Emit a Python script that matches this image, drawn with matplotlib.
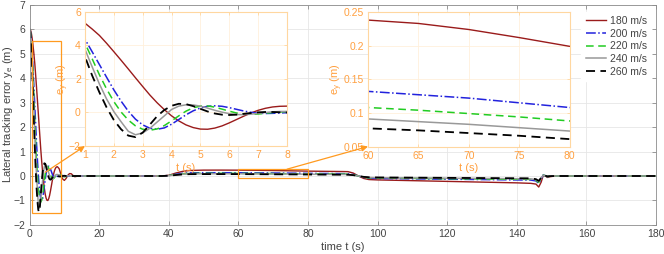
import numpy as np
import matplotlib
matplotlib.use('Agg')
import matplotlib.pyplot as plt
from matplotlib.patches import Rectangle
from matplotlib.ticker import FormatStrFormatter

plt.rcParams['font.family'] = ['Liberation Sans', 'DejaVu Sans']
plt.rcParams['mathtext.fontset'] = 'custom'
plt.rcParams['mathtext.rm'] = 'Liberation Sans'
plt.rcParams['mathtext.it'] = 'Liberation Sans'

# ---- data ----
labels = ['180 m/s', '200 m/s', '220 m/s', '240 m/s', '260 m/s']

# start-up transient, sampled every 0.25 s from 0 to 8 s
t_start = np.arange(0, 8.01, 0.25)
e180_start = [6.0, 5.97, 5.85, 5.62, 5.33, 4.98, 4.6, 4.13, 3.63, 3.12, 2.6, 2.07, 1.55, 1.04,
              0.58, 0.17, -0.2, -0.5, -0.74, -0.9, -0.99, -1.0, -0.93, -0.8, -0.62, -0.42,
              -0.22, -0.03, 0.13, 0.25, 0.33, 0.37, 0.38]
e200_start = [6.0, 5.9, 5.55, 5.0, 4.37, 3.62, 2.86, 2.1, 1.35, 0.68, 0.08, -0.4, -0.74, -0.94,
              -1.0, -0.92, -0.7, -0.42, -0.14, 0.1, 0.27, 0.37, 0.4, 0.37, 0.29, 0.19,
              0.09, 0.01, -0.04, -0.06, -0.05, -0.03, -0.01]
e220_start = [6.0, 5.88, 5.45, 4.85, 4.13, 3.2, 2.25, 1.4, 0.65, 0.03, -0.45, -0.8, -1.0, -1.06,
              -0.98, -0.78, -0.5, -0.2, 0.08, 0.28, 0.38, 0.39, 0.32, 0.2, 0.08, -0.03,
              -0.09, -0.11, -0.09, -0.05, 0.0, 0.03, 0.05]
e240_start = [6.0, 5.85, 5.35, 4.65, 3.77, 2.72, 1.7, 0.8, 0.05, -0.55, -1.12, -1.33, -1.22, -0.94,
              -0.57, -0.2, 0.18, 0.38, 0.46, 0.45, 0.38, 0.26, 0.13, 0.02, -0.07, -0.12,
              -0.13, -0.1, -0.05, 0.0, 0.04, 0.06, 0.06]
e260_start = [6.0, 5.8, 5.2, 4.35, 3.33, 2.2, 1.2, 0.3, -0.45, -1.0, -1.38, -1.47, -1.2, -0.72,
              -0.22, 0.15, 0.4, 0.52, 0.5, 0.38, 0.22, 0.06, -0.06, -0.13, -0.15, -0.13,
              -0.08, -0.03, 0.01, 0.03, 0.03, 0.01, 0.0]

# rest of the run
t_rest = [8.5, 9, 9.5, 10, 10.5, 11, 11.5, 12, 12.5, 13, 14, 38, 40, 42, 44, 46, 50, 55,
          60, 65, 70, 75, 80, 85, 90, 91.5, 93, 94.5, 96, 97.5, 100, 110, 120, 130, 140,
          144, 145.5, 146.3, 147, 147.6, 148.2, 148.8, 149.5, 151, 180]
e180_rest = [0.3, 0.08, -0.12, -0.18, -0.1, 0.03, 0.1, 0.09, 0.02, -0.03, 0.0, 0.0, 0.03, 0.12,
             0.19, 0.225, 0.24, 0.241, 0.238, 0.233, 0.224, 0.212, 0.199, 0.19, 0.182, 0.178,
             0.12, 0.0, -0.1, -0.145, -0.16, -0.19, -0.22, -0.25, -0.28, -0.3, -0.33, -0.45,
             -0.25, 0.03, 0.0, -0.06, -0.03, 0.0, 0.0]
e200_rest = [0.01, 0.02, 0.02, 0.0, -0.01, 0.0, 0.0, 0.0, 0.0, 0.0, 0.0, 0.0, 0.02, 0.07,
             0.11, 0.128, 0.134, 0.134, 0.132, 0.127, 0.122, 0.115, 0.108, 0.101, 0.095, 0.092,
             0.06, 0.0, -0.06, -0.09, -0.1, -0.115, -0.13, -0.145, -0.16, -0.165, -0.2, -0.3,
             -0.12, 0.04, 0.01, -0.03, -0.01, 0.0, 0.0]
e220_rest = [0.06, 0.04, 0.0, -0.03, -0.02, 0.0, 0.0, 0.0, 0.0, 0.0, 0.0, 0.0, 0.02, 0.06,
             0.09, 0.105, 0.11, 0.11, 0.108, 0.104, 0.099, 0.094, 0.088, 0.083, 0.078, 0.076,
             0.05, 0.0, -0.05, -0.075, -0.085, -0.097, -0.11, -0.122, -0.135, -0.14, -0.18, -0.26,
             -0.1, 0.035, 0.01, -0.025, -0.01, 0.0, 0.0]
e240_rest = [0.04, 0.0, -0.03, -0.02, 0.0, 0.01, 0.0, 0.0, 0.0, 0.0, 0.0, 0.0, 0.015, 0.05,
             0.075, 0.088, 0.092, 0.092, 0.091, 0.087, 0.083, 0.078, 0.073, 0.068, 0.064, 0.062,
             0.04, 0.0, -0.04, -0.062, -0.07, -0.08, -0.09, -0.1, -0.11, -0.115, -0.15, -0.23,
             -0.08, 0.03, 0.01, -0.02, -0.01, 0.0, 0.0]
e260_rest = [-0.02, -0.02, 0.0, 0.01, 0.0, 0.0, 0.0, 0.0, 0.0, 0.0, 0.0, 0.0, 0.012, 0.04,
             0.065, 0.075, 0.078, 0.078, 0.077, 0.074, 0.07, 0.066, 0.061, 0.057, 0.053, 0.052,
             0.035, 0.0, -0.035, -0.052, -0.06, -0.068, -0.076, -0.084, -0.092, -0.095, -0.13, -0.2,
             -0.07, 0.025, 0.01, -0.015, -0.005, 0.0, 0.0]

t = np.concatenate([t_start, t_rest])
series = [np.concatenate([e180_start, e180_rest]),
          np.concatenate([e200_start, e200_rest]),
          np.concatenate([e220_start, e220_rest]),
          np.concatenate([e240_start, e240_rest]),
          np.concatenate([e260_start, e260_rest])]

# ---- styles ----
styles = [dict(color='#9a1b1b', ls='-', lw=1.0),
          dict(color='#2222dd', ls='-.', lw=1.1),
          dict(color='#22cc22', ls=(0, (5, 3)), lw=1.1),
          dict(color='#999999', ls='-', lw=1.1),
          dict(color='black', ls=(0, (5, 3)), lw=1.3)]
orange = '#ff9a1f'
orange_txt = '#ffa040'
orange_spine = '#ffd7a0'
gray_txt = '#444444'
gray_spine = '#8c8c8c'

fig = plt.figure(figsize=(6.64, 2.54), dpi=100)

# main axes
ax = fig.add_axes([0.0445, 0.1142, 0.9435, 0.868])
for e, st in zip(series, styles):
    ax.plot(t, e, **st)
ax.set_xlim(0, 180)
ax.set_ylim(-2, 7)
ax.set_xticks(np.arange(0, 181, 20))
ax.set_yticks(np.arange(-2, 8, 1))
ax.grid(True, color='#e6e6e6', lw=0.6)
ax.set_axisbelow(True)
ax.tick_params(direction='in', length=3, width=0.6, colors=gray_spine, labelcolor=gray_txt,
               labelsize=7.5, top=True, right=True, pad=3)
for s in ax.spines.values():
    s.set_color(gray_spine)
    s.set_linewidth(0.6)
ax.set_xlabel('time t (s)', fontsize=8, color=gray_txt, labelpad=2)
ax.set_ylabel('Lateral tracking error y$_\\mathrm{e}$ (m)', fontsize=8, color=gray_txt)
ax.yaxis.set_label_coords(-0.024, 0.5)

# zoom rectangles
ax.add_patch(Rectangle((0.8, -1.5), 8.2, 7.0, fill=False, ec=orange, lw=0.9, zorder=5))
ax.add_patch(Rectangle((60, -0.07), 20, 0.35, fill=False, ec=orange, lw=0.9, zorder=5))

leg = ax.legend(labels, loc='upper right', bbox_to_anchor=(1.0, 0.99), fontsize=7.5,
                frameon=True, fancybox=False, edgecolor='white', framealpha=1,
                handlelength=2.0, handletextpad=0.3, labelspacing=0.25, borderpad=0.4)
for txt in leg.get_texts():
    txt.set_color(gray_txt)


def style_inset(a, ylab_x):
    a.grid(True, color='#fff0dc', lw=0.6)
    a.set_axisbelow(True)
    a.tick_params(direction='in', length=2.5, width=0.6, colors=orange_spine,
                  labelcolor=orange_txt, labelsize=7.5, top=True, right=True, pad=3)
    for s in a.spines.values():
        s.set_color(orange_spine)
        s.set_linewidth(0.8)
    a.set_xlabel('t (s)', fontsize=8, color=orange_txt, labelpad=2)
    a.set_ylabel('e$_y$ (m)', fontsize=8, color=orange_txt)
    a.yaxis.set_label_coords(ylab_x, 0.5)


# inset 1: start-up transient
ax1 = fig.add_axes([0.128, 0.4252, 0.3042, 0.5276])
for e, st in zip(series, styles):
    ax1.plot(t, e, **st)
ax1.set_xlim(1, 8)
ax1.set_ylim(-2, 6)
ax1.set_xticks(np.arange(1, 9, 1))
ax1.set_yticks([-2, 0, 2, 4, 6])
style_inset(ax1, -0.068)

# inset 2: 60-80 s plateau
ax2 = fig.add_axes([0.5542, 0.4232, 0.3035, 0.5295])
for e, st in zip(series, styles):
    ax2.plot(t, e, **st)
ax2.set_xlim(60, 80)
ax2.set_ylim(0.05, 0.25)
ax2.set_xticks([60, 65, 70, 75, 80])
ax2.set_yticks([0.05, 0.1, 0.15, 0.2, 0.25])
ax2.yaxis.set_major_formatter(FormatStrFormatter('%g'))
style_inset(ax2, -0.112)

# arrows from zoom boxes to insets
arrow = dict(arrowstyle='-|>', color=orange, lw=0.9, mutation_scale=9, shrinkA=0, shrinkB=0)
ax1.annotate('', xy=(0, 0), xycoords='axes fraction', xytext=(4.5, 0.15),
             textcoords=ax.transData, arrowprops=arrow, annotation_clip=False)
ax2.annotate('', xy=(0, 0), xycoords='axes fraction', xytext=(74, 0.28),
             textcoords=ax.transData, arrowprops=arrow, annotation_clip=False)

fig.savefig('out.png', dpi=100)
